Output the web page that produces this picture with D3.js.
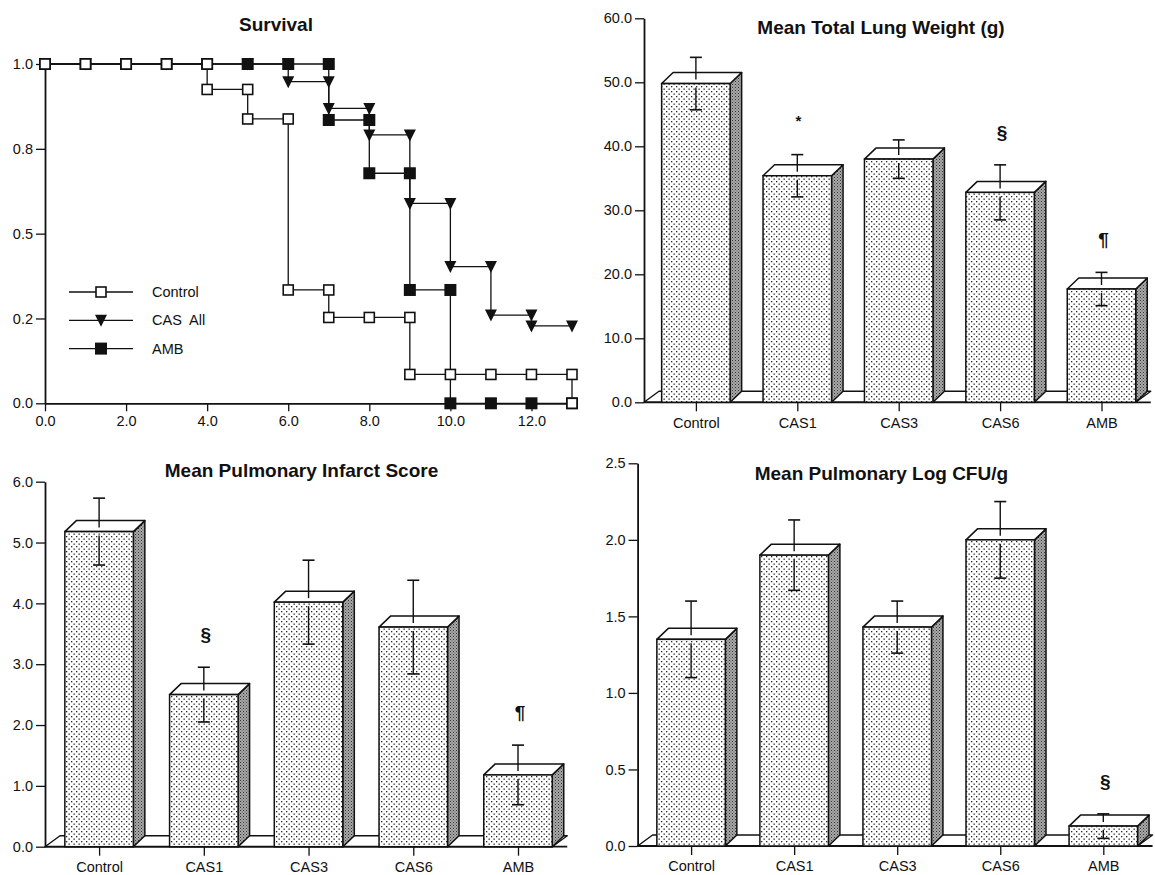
<!DOCTYPE html>
<html>
<head>
<meta charset="utf-8">
<script src="https://cdn.jsdelivr.net/npm/d3@7"></script>
<style>
  body { margin: 0; background: #fff; }
  svg { display: block; font-family: "Liberation Sans", Arial, sans-serif; }
  .axis text { font-size: 14.5px; fill: #111; font-family: "Liberation Sans", Arial, sans-serif; }
  .axis line { stroke: #111; stroke-width: 1.3; }
  .axis .domain { stroke: #111; stroke-width: 1.8; }
  .title { font-size: 19px; font-weight: bold; fill: #111; text-anchor: middle; }
</style>
</head>
<body>
<svg></svg>
<script>
const svg = d3.select("svg");

//// chart size
const width = 1155;
const height = 875;

//// survival data (fraction alive at end of each day)
const days = [0, 1, 2, 3, 4, 5, 6, 7, 8, 9, 10, 11, 12, 13];
const survControl = [1, 1, 1, 1, 0.925, 0.838, 0.334, 0.253, 0.253, 0.085, 0.085, 0.085, 0.085, 0];
const survCAS = [1, 1, 1, 1, 1, 1, 0.948, 0.869, 0.791, 0.589, 0.403, 0.26, 0.228, 0.228];
const survAMB = [1, 1, 1, 1, 1, 1, 1, 0.835, 0.678, 0.334, 0, 0, 0, 0];
const survXTicks = [0, 2, 4, 6, 8, 10, 12];
const survYTicks = [0, 0.25, 0.5, 0.75, 1];
const survYLabels = ["0.0", "0.2", "0.5", "0.8", "1.0"];
const legendNames = ["Control", "CAS  All", "AMB"];

//// bar data
const groups = ["Control", "CAS1", "CAS3", "CAS6", "AMB"];
const lungMean = [49.8, 35.4, 38.0, 32.8, 17.7];
const lungSD = [4.1, 3.3, 3.0, 4.3, 2.6];
const lungMarks = ["", "*", "", "§", "¶"];
const lungTicks = [0, 10, 20, 30, 40, 50, 60];

const infarctMean = [5.18, 2.5, 4.02, 3.61, 1.18];
const infarctSD = [0.55, 0.45, 0.69, 0.77, 0.49];
const infarctMarks = ["", "§", "", "", "¶"];
const infarctTicks = [0, 1, 2, 3, 4, 5, 6];

const cfuMean = [1.35, 1.9, 1.43, 2.0, 0.13];
const cfuSD = [0.25, 0.23, 0.17, 0.25, 0.08];
const cfuMarks = ["", "", "", "", "§"];
const cfuTicks = [0, 0.5, 1.0, 1.5, 2.0, 2.5];

//// 3D look
const barW = 68.5;
const bdx = 11.5, bdy = -11;
const fdx = 15, fdy = -11;

const setup = () => {
  svg.attr("width", width).attr("height", height);
  svg.append("rect").attr("width", width).attr("height", height).attr("fill", "#fff");
  const defs = svg.append("defs");
  const dots = defs.append("pattern").attr("id", "dots")
    .attr("width", 5).attr("height", 5).attr("patternUnits", "userSpaceOnUse");
  dots.append("rect").attr("width", 5).attr("height", 5).attr("fill", "#fff");
  dots.append("rect").attr("x", 1).attr("y", 1).attr("width", 1.3).attr("height", 1.3).attr("fill", "#222");
  dots.append("rect").attr("x", 3.5).attr("y", 3.5).attr("width", 1.3).attr("height", 1.3).attr("fill", "#222");
  const side = defs.append("pattern").attr("id", "side")
    .attr("width", 3).attr("height", 3).attr("patternUnits", "userSpaceOnUse");
  side.append("rect").attr("width", 3).attr("height", 3).attr("fill", "#a8a8a8");
  side.append("rect").attr("width", 1).attr("height", 1).attr("fill", "#333");
  side.append("rect").attr("x", 1.5).attr("y", 1.5).attr("width", 1).attr("height", 1).attr("fill", "#555");
};

const drawMarker = (g, type, cx, cy) => {
  if (type === "open") {
    g.append("rect").attr("x", cx - 5).attr("y", cy - 5).attr("width", 10).attr("height", 10)
      .attr("fill", "#fff").attr("stroke", "#111").attr("stroke-width", 1.6);
  } else if (type === "filled") {
    g.append("rect").attr("x", cx - 6).attr("y", cy - 6).attr("width", 12).attr("height", 12)
      .attr("fill", "#111");
  } else {
    g.append("path").attr("d", `M${cx - 6},${cy - 5.5} L${cx + 6},${cy - 5.5} L${cx},${cy + 6.5} Z`)
      .attr("fill", "#111");
  }
};

const drawSurvival = () => {
  const g = svg.append("g");
  const x = d3.scaleLinear().domain([0, 13]).range([45, 572]);
  const y = d3.scaleLinear().domain([0, 1]).range([403.3, 64]);

  g.append("text").attr("class", "title").attr("x", 276).attr("y", 31).text("Survival");

  g.append("g").attr("class", "axis")
    .attr("transform", `translate(0,${y(0)})`)
    .call(d3.axisBottom(x).tickValues(survXTicks).tickFormat(d3.format(".1f")).tickSize(8).tickSizeOuter(0).tickPadding(4));
  g.append("g").attr("class", "axis")
    .attr("transform", `translate(${x(0)},0)`)
    .call(d3.axisLeft(y).tickValues(survYTicks).tickFormat((d, i) => survYLabels[i]).tickSize(9).tickSizeOuter(0).tickPadding(3));

  const line = d3.line().x((d, i) => x(days[i])).y(d => y(d)).curve(d3.curveStepAfter);
  const series = [[survCAS, "tri"], [survAMB, "filled"], [survControl, "open"]];
  series.forEach(([vals, type]) => {
    g.append("path").datum(vals).attr("d", line)
      .attr("fill", "none").attr("stroke", "#111").attr("stroke-width", 1.3);
    vals.forEach((v, i) => {
      if (i > 0 && vals[i - 1] !== v) drawMarker(g, type, x(days[i]), y(vals[i - 1]));
      drawMarker(g, type, x(days[i]), y(v));
    });
  });

  // legend
  const types = ["open", "tri", "filled"];
  legendNames.forEach((name, i) => {
    const ly = 292 + i * 28.3;
    g.append("line").attr("x1", 69).attr("x2", 133).attr("y1", ly).attr("y2", ly)
      .attr("stroke", "#111").attr("stroke-width", 1.3);
    drawMarker(g, types[i], 101, ly);
    g.append("text").attr("x", 152).attr("y", ly + 5).attr("font-size", "14.5px").attr("fill", "#111")
      .attr("xml:space", "preserve").style("white-space", "pre").text(name);
  });
};

const drawBars = (cfg, means, sds, marks, ticks, fmt) => {
  const g = svg.append("g");
  const x = d3.scalePoint().domain(groups).range([cfg.xFirst, cfg.xLast]);
  const y = d3.scaleLinear().domain([0, ticks[ticks.length - 1]]).range([cfg.bottom, cfg.top]);
  const y0 = y(0);
  const rows = groups.map((k, i) => ({ k: k, m: means[i], sd: sds[i], mark: marks[i] }));

  g.append("text").attr("class", "title").attr("x", cfg.titleX).attr("y", cfg.titleY).text(cfg.title);

  // floor
  const right = x(groups[groups.length - 1]) + barW / 2;
  g.append("path")
    .attr("d", `M${cfg.axisX},${y0} L${cfg.axisX + fdx},${y0 + fdy} L${right + fdx},${y0 + fdy} L${right},${y0} Z`)
    .attr("fill", "#fff").attr("stroke", "#111").attr("stroke-width", 1.4).attr("stroke-linejoin", "round");
  g.append("line").attr("x1", cfg.axisX).attr("x2", right + fdx).attr("y1", y0).attr("y2", y0)
    .attr("stroke", "#111").attr("stroke-width", 1.8);

  // bars
  rows.forEach(d => {
    const xl = x(d.k) - barW / 2, xr = x(d.k) + barW / 2, yt = y(d.m);
    g.append("path")
      .attr("d", `M${xr},${yt} L${xr + bdx},${yt + bdy} L${xr + bdx},${y0 + bdy} L${xr},${y0} Z`)
      .attr("fill", "url(#side)").attr("stroke", "#111").attr("stroke-width", 1.5).attr("stroke-linejoin", "round");
    g.append("path")
      .attr("d", `M${xl},${yt} L${xl + bdx},${yt + bdy} L${xr + bdx},${yt + bdy} L${xr},${yt} Z`)
      .attr("fill", "#fff").attr("stroke", "#111").attr("stroke-width", 1.5).attr("stroke-linejoin", "round");
    g.append("rect").attr("x", xl).attr("y", yt).attr("width", barW).attr("height", y0 - yt)
      .attr("fill", "url(#dots)").attr("stroke", "#111").attr("stroke-width", 1.5);
  });

  // error bars
  rows.forEach(d => {
    const cx = x(d.k), yt = y(d.m), yu = y(d.m + d.sd), yl = y(d.m - d.sd);
    const seg = (a, b) => g.append("line").attr("x1", cx).attr("x2", cx).attr("y1", a).attr("y2", b)
      .attr("stroke", "#111").attr("stroke-width", 1.4);
    const cap = (yy) => g.append("line").attr("x1", cx - 6).attr("x2", cx + 6).attr("y1", yy).attr("y2", yy)
      .attr("stroke", "#111").attr("stroke-width", 1.6);
    seg(yu, yt - 4); cap(yu);
    seg(yt + 4, yl); cap(yl);
    if (d.mark) {
      const big = d.mark !== "*";
      g.append("text").attr("x", cx + (big ? 2 : 1)).attr("y", yu - (big ? 26 : 29))
        .attr("text-anchor", "middle").attr("font-weight", "bold")
        .attr("font-size", big ? "19px" : "15px").attr("fill", "#111").text(d.mark);
    }
  });

  // axes
  const yAxis = g.append("g").attr("class", "axis")
    .attr("transform", `translate(${cfg.axisX},0)`)
    .call(d3.axisLeft(y).tickValues(ticks).tickFormat(d3.format(fmt)).tickSize(9).tickSizeOuter(0).tickPadding(3));
  const xAxis = g.append("g").attr("class", "axis")
    .attr("transform", `translate(0,${y0})`)
    .call(d3.axisBottom(x).tickSize(9).tickPadding(6));
  xAxis.select(".domain").remove();
};

setup();
drawSurvival();
drawBars({ title: "Mean Total Lung Weight (g)", titleX: 881, titleY: 34, axisX: 644, bottom: 402.3, top: 18.3, xFirst: 695.9, xLast: 1101.5 },
  lungMean, lungSD, lungMarks, lungTicks, ".1f");
drawBars({ title: "Mean Pulmonary Infarct Score", titleX: 301.5, titleY: 477, axisX: 45, bottom: 846.7, top: 481.7, xFirst: 99.1, xLast: 518 },
  infarctMean, infarctSD, infarctMarks, infarctTicks, ".1f");
drawBars({ title: "Mean Pulmonary Log CFU/g", titleX: 881.4, titleY: 480, axisX: 637.6, bottom: 846, top: 463.3, xFirst: 691.1, xLast: 1103.3 },
  cfuMean, cfuSD, cfuMarks, cfuTicks, ".1f");
</script>
</body>
</html>
